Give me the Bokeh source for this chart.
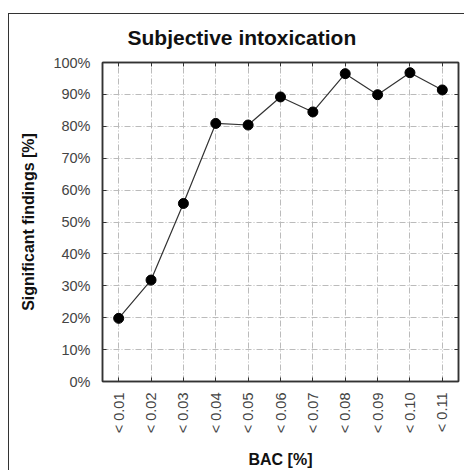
from bokeh.plotting import figure
from bokeh.models import FixedTicker, LinearAxis, CategoricalAxis, CustomLabelingPolicy
from bokeh.embed import file_html
from bokeh.resources import INLINE

categories = ["< 0.01", "< 0.02", "< 0.03", "< 0.04", "< 0.05", "< 0.06",
              "< 0.07", "< 0.08", "< 0.09", "< 0.10", "< 0.11"]
findings = [19.8, 31.8, 55.8, 80.9, 80.4, 89.2, 84.5, 96.5, 89.9, 96.8, 91.4]
y_ticks = [0, 10, 20, 30, 40, 50, 60, 70, 80, 90, 100]
y_tick_labels = ["0%", "10%", "20%", "30%", "40%", "50%", "60%", "70%", "80%", "90%", "100%"]

FONT = "Liberation Sans"

p = figure(width=456, height=457, x_range=categories, y_range=(0, 100),
           title="Subjective intoxication",
           output_backend="svg", toolbar_location=None,
           margin=(13, 0, 0, 8),
           min_border_left=93, min_border_right=7, min_border_top=48, min_border_bottom=87)
p.styles = {"border-left": "1px solid #333", "border-top": "1px solid #333",
            "box-sizing": "border-box"}

p.title.align = "left"
p.title.offset = 25
p.title.text_font = FONT
p.title.text_font_size = "21px"
p.title.text_font_style = "bold"
p.title.text_color = "#111"
p.title.standoff = 19

p.background_fill_color = "white"
p.border_fill_color = "white"
p.outline_line_color = "#333"
p.outline_line_width = 1.5

for ax in (p.xaxis[0], p.yaxis[0]):
    ax.axis_line_color = "#333"
    ax.axis_line_width = 1.5
    ax.major_tick_line_color = "#333"
    ax.major_tick_in = 4
    ax.major_tick_out = 0
    ax.minor_tick_line_color = None
    ax.major_label_text_font = FONT
    ax.major_label_text_font_size = "14.5px"
    ax.major_label_text_color = "#444"
    ax.axis_label_text_font = FONT
    ax.axis_label_text_font_size = "16px"
    ax.axis_label_text_font_style = "bold"
    ax.axis_label_text_color = "#111"

p.yaxis.ticker = FixedTicker(ticks=y_ticks)
p.yaxis.major_label_overrides = {v: l for v, l in zip(y_ticks, y_tick_labels)}
p.yaxis.axis_label = "Significant findings [%]"
p.yaxis.major_label_standoff = 12
p.yaxis.axis_label_standoff = 13

p.xaxis.axis_label = "BAC [%]"
p.xaxis.major_label_orientation = 3.14159265 / 2
p.xaxis.major_label_standoff = 11
p.xaxis.axis_label_standoff = 15

no_labels = CustomLabelingPolicy(code="return []")

right = LinearAxis(ticker=FixedTicker(ticks=y_ticks), major_tick_in=4, major_tick_out=0,
                   major_label_policy=no_labels, major_label_standoff=0,
                   major_label_text_font_size="1px",
                   minor_tick_line_color=None, axis_line_color="#333", axis_line_width=1.5,
                   major_tick_line_color="#333")
p.add_layout(right, "right")

top = CategoricalAxis(major_tick_in=4, major_tick_out=0,
                      major_label_policy=no_labels, major_label_standoff=0,
                      major_label_text_font_size="1px",
                      axis_line_color="#333", axis_line_width=1.5,
                      major_tick_line_color="#333")
p.add_layout(top, "above")

p.xgrid.grid_line_color = "#bbbbbb"
p.ygrid.grid_line_color = "#bbbbbb"
p.xgrid.grid_line_dash = "6 2 1 2"
p.ygrid.grid_line_dash = "6 2 1 2"
p.xgrid.grid_line_width = 1
p.ygrid.grid_line_width = 1

p.line(categories, findings, line_color="#333", line_width=1.2)
p.scatter(categories, findings, size=10, fill_color="black", line_color="black")

open("out.html", "w").write(file_html(p, INLINE))
